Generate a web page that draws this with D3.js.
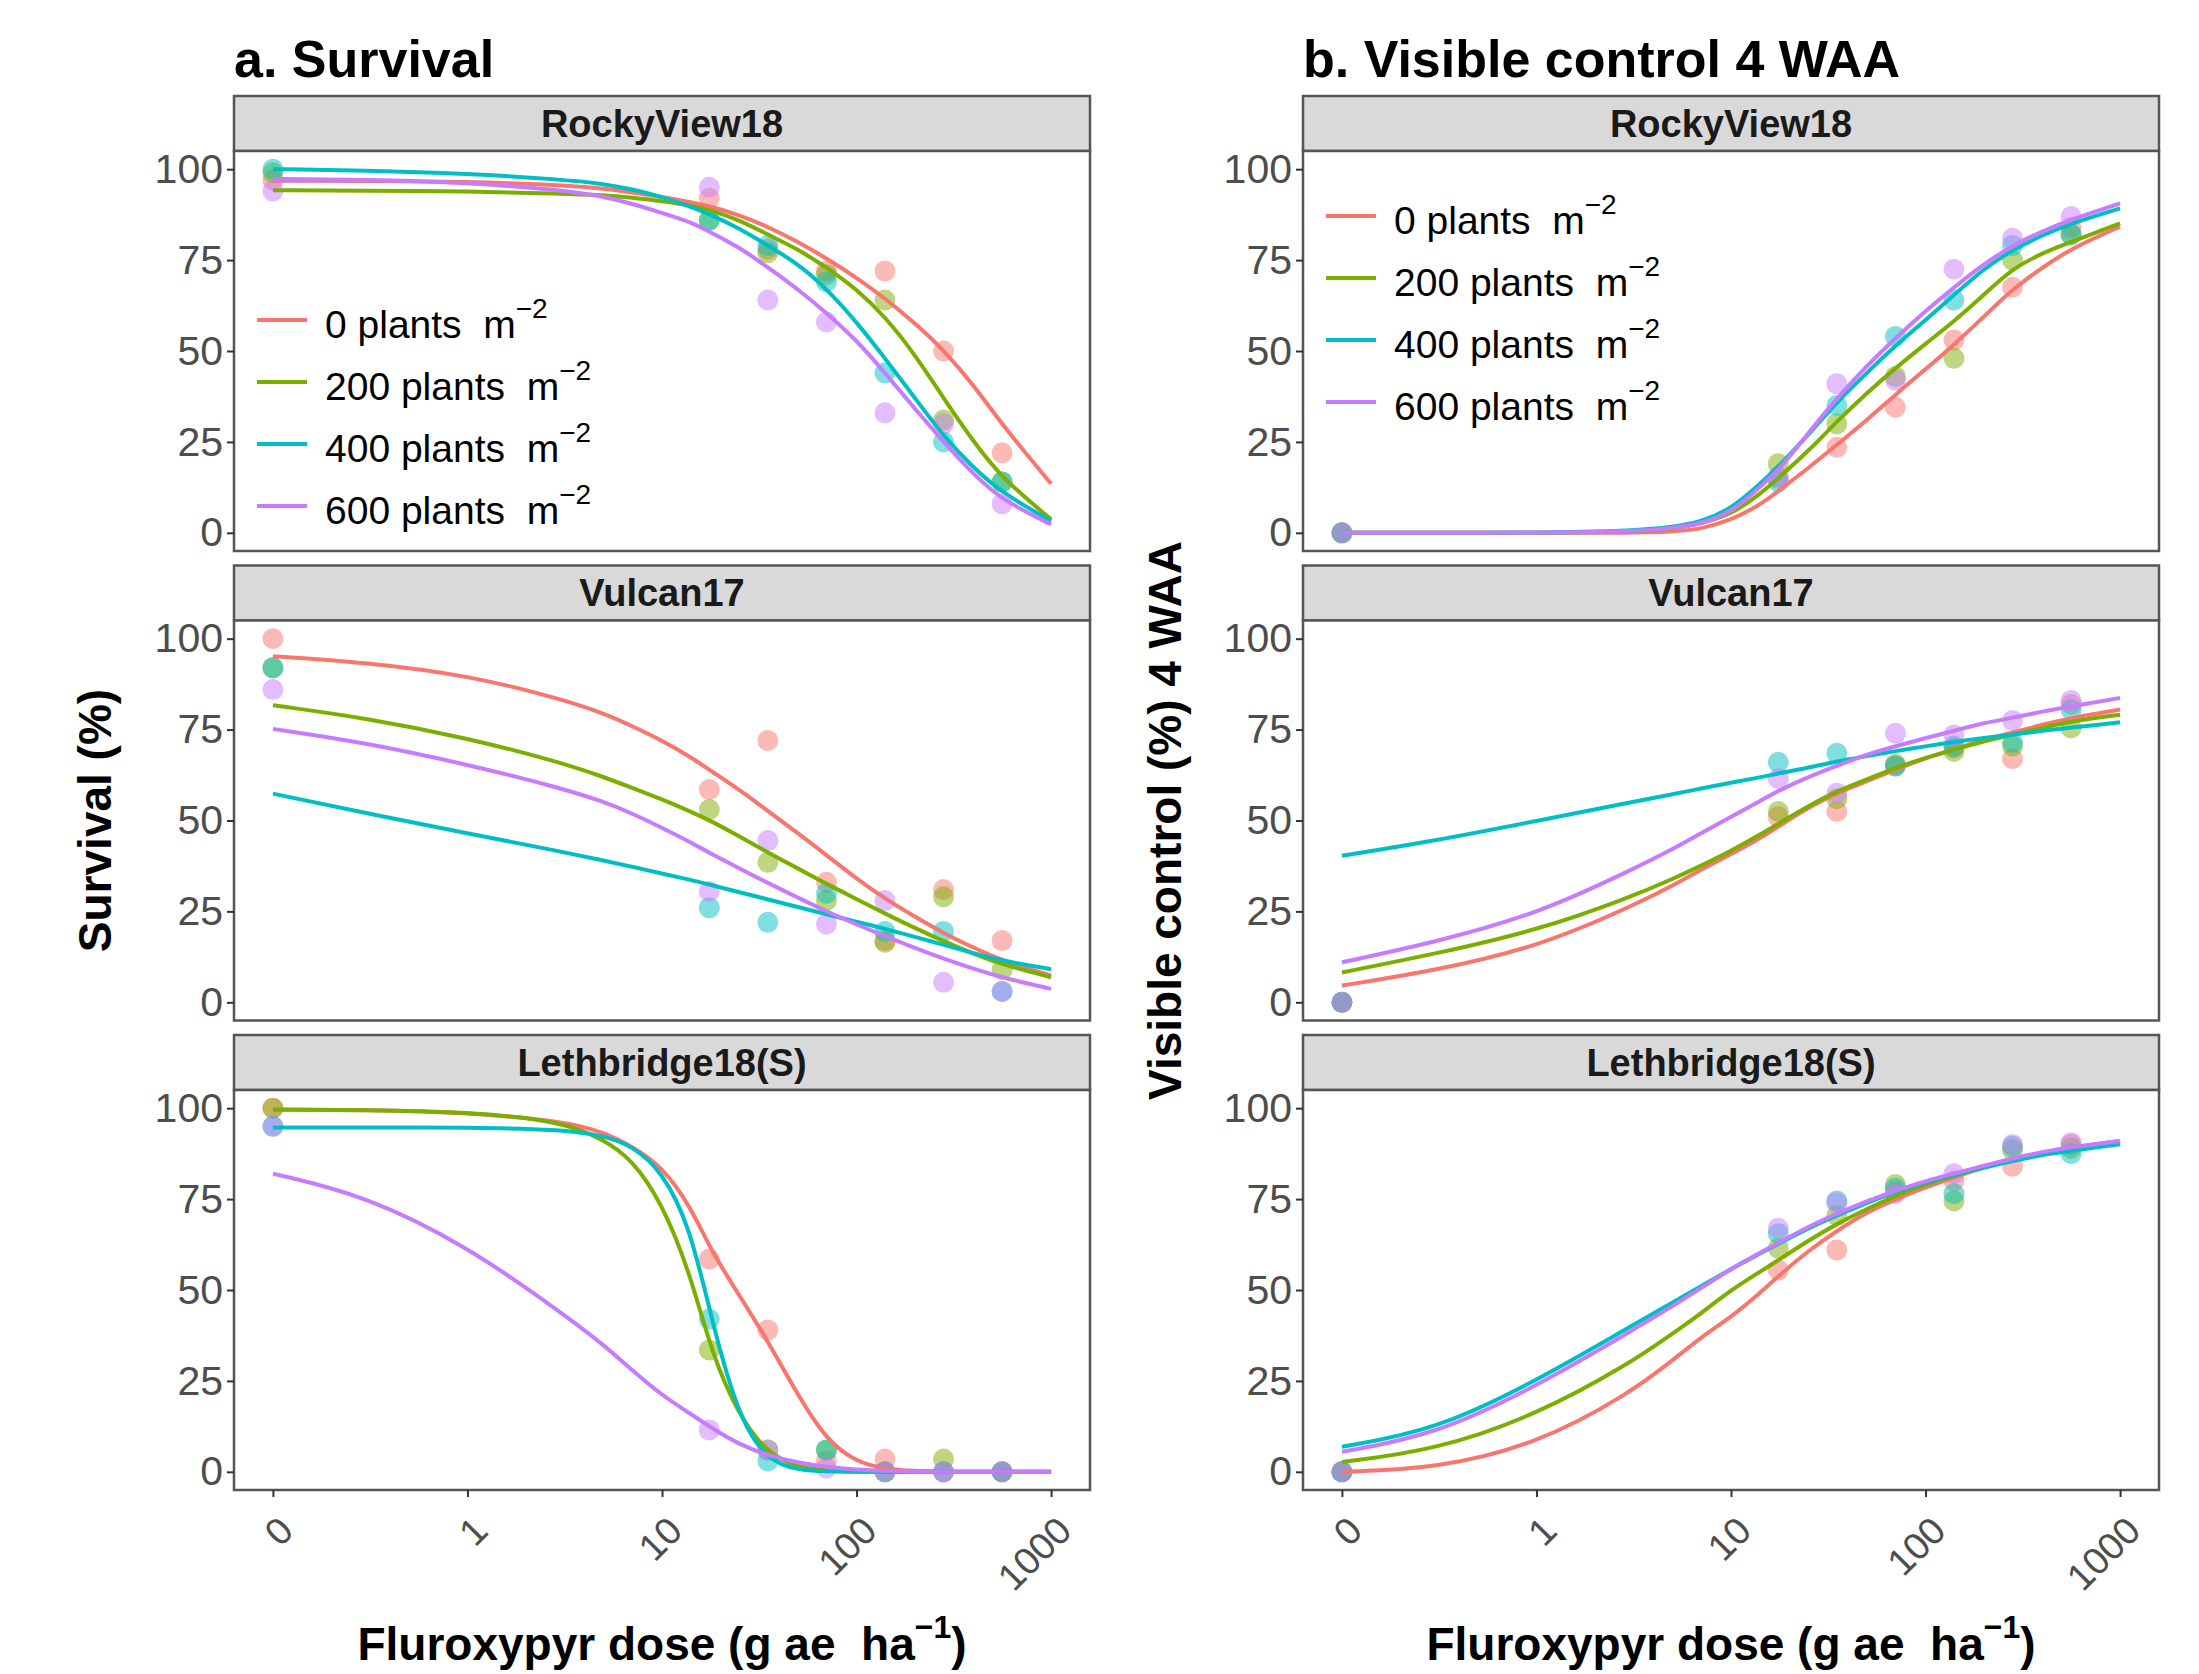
<!DOCTYPE html>
<html>
<head>
<meta charset="utf-8">
<script src="https://cdn.jsdelivr.net/npm/d3@7"></script>
<style>
  body { margin: 0; background: #fff; }
  text { font-family: "Liberation Sans", Arial, sans-serif; }
</style>
</head>
<body>
<svg id="chart" width="2199" height="1674"></svg>
<script>
// ---- data ----
const sites = ["RockyView18", "Vulcan17", "Lethbridge18(S)"];
const densities = [0, 200, 400, 600];
const obsDose = [0, 17.5, 35, 70, 140, 280, 560];
const fitDose = [0, 0.3, 1, 3, 5, 7, 10, 14, 18, 25, 35, 50, 70, 100, 140, 200, 280, 400, 560, 1000];
const xTickValues = [0, 1, 10, 100, 1000];
const xTickLabels = ["0", "1", "10", "100", "1000"];
const yTickValues = [0, 25, 50, 75, 100];

// survival (%) - observed, one row per density (0, 200, 400, 600)
const survObsRocky = [
  [97, 92, 78, 72, 72, 50, 22],
  [99, 86, 77, 71, 64, 31, 14],
  [100, 86, 79, 69, 44, 25, 14],
  [94, 95, 64, 58, 33, 30, 8]
];
const survObsVulcan = [
  [100, 58.5, 72, 33, 17, 31, 17],
  [92, 53, 38.5, 28, 16.5, 29, 9],
  [92, 26, 22, 30, 19.5, 19.5, 3],
  [86, 30.5, 44.5, 21.5, 28, 5.5, 3]
];
const survObsLeth = [
  [100, 58.5, 39, 3, 3.5, 0, 0],
  [100, 33.5, 6, 6, 0, 3.5, 0],
  [95, 42, 3, 6, 0, 0, 0],
  [95, 11.5, 6, 1, 0, 0, 0]
];

// survival (%) - fitted curves at fitDose
const survFitRocky = [
  [96.8, 96.8, 96.6, 95.6, 94.7, 93.6, 92.4, 91, 89.7, 87.4, 84.2, 80, 75.5, 70.2, 64.5, 57.6, 50.3, 40.7, 29.7, 13.5],
  [94.2, 94.1, 93.9, 93.3, 92.9, 92.2, 91.2, 90.1, 88.7, 86, 82, 78, 73, 67, 59.5, 49, 37, 25, 15, 3.7],
  [100, 99.7, 98.8, 97.2, 96, 94.5, 92.4, 89.7, 87.4, 83.7, 79, 74, 67.2, 58, 48, 37, 26.5, 17.8, 11, 3.2],
  [97.3, 97.1, 96.3, 94.3, 92.5, 90.5, 88, 85.5, 82.5, 78.5, 73, 67, 60.5, 53, 44, 34, 25, 16, 9, 2.3]
];
const survFitVulcan = [
  [95.2, 93.5, 90, 83.5, 79.5, 76, 72, 67.5, 63.5, 58.5, 52.6, 46.5, 40.5, 34, 28.5, 23.5, 19, 15, 11.5, 7.3],
  [81.7, 78.2, 72.7, 66, 62, 59, 55.8, 52.5, 49.8, 45.6, 41.2, 36.8, 32.6, 28.4, 24.4, 20.4, 16.8, 13.3, 10.4, 6.9],
  [57.4, 52, 46.5, 41.5, 39, 37.3, 35.4, 33.7, 32.2, 30.3, 28.3, 26.2, 24.2, 22.2, 20.2, 18, 15.8, 13.5, 11.4, 9.1],
  [75.2, 71.4, 65.4, 59, 55.2, 52, 48, 44, 40.8, 36.8, 32.8, 28.8, 25, 21.4, 18.2, 14.9, 12, 9.2, 6.8, 3.7]
];
const survFitLeth = [
  [99.7, 99.5, 98.8, 96.5, 93.5, 89.5, 84, 73, 60.5, 48.5, 36, 21, 8.7, 2.6, 0.8, 0.2, 0, 0, 0, 0],
  [99.6, 99.5, 99, 96.5, 91.5, 86, 74, 54.4, 32.5, 15.1, 5, 1.2, 0.3, 0, 0, 0, 0, 0, 0, 0],
  [94.7, 94.7, 94.7, 94.2, 92.5, 89.7, 82.8, 67.2, 41.6, 14.2, 3, 0.5, 0.1, 0, 0, 0, 0, 0, 0, 0],
  [82, 76, 62, 44, 35, 28, 21, 16, 12, 7.5, 4.5, 2.5, 1.3, 0.6, 0.3, 0.1, 0, 0, 0, 0]
];

// visible control (%) 4 WAA - observed
const visObsRocky = [
  [0, 15, 23.5, 34.5, 53, 67.5, 84],
  [0, 19, 30, 43, 48, 75, 82],
  [0, 14, 35, 54, 64, 79, 82],
  [0, 15.5, 41, 42, 72.5, 81, 87]
];
const visObsVulcan = [
  [0, 51, 52.5, 65, 70, 67, 82],
  [0, 52.5, 56, 65.5, 69, 70.5, 75.5],
  [0, 66, 68.5, 65, 70.5, 71.5, 80.5],
  [0, 61.5, 57.5, 74, 73.5, 77.5, 83]
];
const visObsLeth = [
  [0, 55.5, 61, 77, 80, 84, 90],
  [0, 61.5, 70.5, 79, 74.5, 88.5, 89],
  [0, 65.5, 74.5, 78, 76.5, 89.5, 87.5],
  [0, 67, 74, 76.5, 82, 90, 90.5]
];

// visible control (%) 4 WAA - fitted curves at fitDose
const visFitRocky = [
  [0, 0, 0, 0, 0.3, 1, 3.5, 7.5, 12, 17.8, 24.2, 31, 38, 45, 51.7, 59.5, 67, 73, 78.2, 84.2],
  [0, 0, 0, 0.3, 1, 2.5, 5, 10.5, 15.6, 22.5, 30.6, 38.5, 45.3, 52, 58.1, 65.5, 72.7, 77, 80, 85.1],
  [0, 0, 0, 0.5, 1.5, 3, 6.5, 13.3, 18.8, 27, 36, 44, 51.5, 58.5, 65.4, 72.7, 77.8, 81.9, 85.1, 89.2],
  [0, 0, 0, 0.3, 1.2, 2.5, 5.5, 12.4, 17.8, 27.5, 37, 46, 53.5, 61, 67.5, 74, 79, 83, 86.2, 90.6]
];
const visFitVulcan = [
  [4.6, 8.7, 15.1, 26.1, 32, 36.5, 40.7, 45, 48.8, 53.6, 57.6, 60.8, 64, 67.2, 69.5, 72.3, 74.1, 76.4, 78.2, 80.5],
  [8.2, 13.3, 19.7, 28.8, 33.9, 37.5, 41.6, 46, 49.5, 54, 58.1, 61.3, 64.5, 67.2, 69.5, 71.8, 73.6, 75.5, 77.3, 79.1],
  [40.3, 44.4, 49.9, 54.9, 57.2, 58.8, 60.4, 61.8, 63.1, 64.5, 66.3, 67.7, 69.1, 70.4, 71.6, 72.7, 73.6, 74.7, 75.5, 77],
  [11, 16.5, 24.2, 36.1, 42.1, 46.5, 51, 55.3, 58.5, 62, 65, 68.2, 70.4, 72.7, 74.6, 76.9, 78.2, 80, 81.4, 83.7]
];
const visFitLeth = [
  [0, 0.8, 7.5, 21.5, 30.6, 37, 42.5, 49, 54.4, 60.8, 66.3, 71.4, 75, 78.2, 81, 83.7, 86, 87.8, 89.2, 91],
  [2.7, 5.9, 15.6, 29.7, 38, 43.5, 50, 54.9, 58.6, 63.6, 68.2, 72.3, 75.9, 79.1, 81.4, 83.7, 85.7, 87.4, 88.7, 90.6],
  [6.9, 11.4, 25, 39.8, 46.5, 51, 55.8, 60, 63, 67, 70.5, 74, 77, 79.6, 81.7, 83.7, 85.5, 87.2, 88.3, 90.1],
  [5.5, 10.1, 23.5, 38.4, 45.5, 50.5, 55.8, 60.2, 63.3, 67.4, 71, 74.5, 77.3, 80, 82, 84.2, 86.2, 88, 89.3, 91]
];

// ---- layout / style ----
const colors = ["#F8766D", "#7CAE00", "#00BFC4", "#C77CFF"];
const colLeft = [234, 1303];
const colW = 856;
const rowTop = [96, 565.5, 1035];
const stripH = 55, plotH = 400;
const FONT = '"Liberation Sans", Arial, sans-serif';

const svg = d3.select("#chart");
svg.append("rect").attr("width", 2199).attr("height", 1674).attr("fill", "#fff");

const color = d3.scaleOrdinal().domain(densities).range(colors);

const columns = [
  { title: "a. Survival", ytitle: "Survival (%)", ytitleX: 111,
    fits: [survFitRocky, survFitVulcan, survFitLeth], obs: [survObsRocky, survObsVulcan, survObsLeth],
    legendTop: 169 },
  { title: "b. Visible control 4 WAA", ytitle: "Visible control (%) 4 WAA", ytitleX: 1181,
    fits: [visFitRocky, visFitVulcan, visFitLeth], obs: [visObsRocky, visObsVulcan, visObsLeth],
    legendTop: 65 }
];

const dosePos = d => (d === 0 ? 0.1 : d);

columns.forEach((col, ci) => {
  const left = colLeft[ci];
  const x = d3.scaleLog().domain([Math.pow(10, -1.2), Math.pow(10, 3.2)]).range([left, left + colW]);

  svg.append("text")
    .attr("x", left).attr("y", 77)
    .attr("font-size", 52).attr("font-weight", "bold").attr("fill", "#000")
    .text(col.title);

  sites.forEach((site, ri) => {
    const top = rowTop[ri];
    const pTop = top + stripH, pBot = pTop + plotH;
    const y = d3.scaleLinear().domain([-5, 105]).range([pBot, pTop]);
    const g = svg.append("g");

    // strip
    g.append("rect").attr("x", left).attr("y", top).attr("width", colW).attr("height", stripH)
      .attr("fill", "#D9D9D9").attr("stroke", "#555").attr("stroke-width", 2.5);
    g.append("text").attr("x", left + colW / 2).attr("y", top + stripH / 2 + 13)
      .attr("text-anchor", "middle").attr("font-size", 38).attr("font-weight", "bold")
      .attr("fill", "#1A1A1A").text(site);

    // panel background
    g.append("rect").attr("x", left).attr("y", pTop).attr("width", colW).attr("height", plotH)
      .attr("fill", "#fff");

    // points
    col.obs[ri].forEach((vals, si) => {
      g.append("g").selectAll("circle")
        .data(vals.map((v, k) => [obsDose[k], v]))
        .join("circle")
        .attr("cx", d => x(dosePos(d[0])))
        .attr("cy", d => y(d[1]))
        .attr("r", 10.5)
        .attr("fill", color(densities[si]))
        .attr("fill-opacity", 0.5);
    });

    // fitted curves
    const line = d3.line()
      .x(d => x(dosePos(d[0])))
      .y(d => y(d[1]))
      .curve(d3.curveBasis);
    col.fits[ri].forEach((vals, si) => {
      g.append("path")
        .datum(vals.map((v, k) => [fitDose[k], v]))
        .attr("fill", "none")
        .attr("stroke", color(densities[si]))
        .attr("stroke-width", 4)
        .attr("stroke-linejoin", "round")
        .attr("d", line);
    });

    // border
    g.append("rect").attr("x", left).attr("y", pTop).attr("width", colW).attr("height", plotH)
      .attr("fill", "none").attr("stroke", "#555").attr("stroke-width", 2.5);

    // y axis
    const ya = g.append("g").attr("transform", `translate(${left},0)`)
      .call(d3.axisLeft(y).tickValues(yTickValues).tickSize(7).tickPadding(4));
    ya.select(".domain").remove();
    ya.selectAll(".tick line").attr("stroke", "#333").attr("stroke-width", 2);
    ya.selectAll(".tick text").attr("font-size", 41).attr("fill", "#4D4D4D")
      .attr("font-family", FONT);

    // x axis only under the bottom panel
    if (ri === sites.length - 1) {
      const xa = g.append("g").attr("transform", `translate(0,${pBot})`)
        .call(d3.axisBottom(x).tickValues(xTickValues.map(dosePos))
          .tickFormat((d, i) => xTickLabels[i]).tickSize(7));
      xa.select(".domain").remove();
      xa.selectAll(".tick line").attr("stroke", "#333").attr("stroke-width", 2);
      xa.selectAll(".tick text")
        .attr("y", null).attr("dy", null)
        .attr("transform", "translate(22,43) rotate(-45)")
        .attr("text-anchor", "end")
        .attr("font-size", 38).attr("fill", "#4D4D4D").attr("font-family", FONT);
    }

    // legend in the top panel
    if (ri === 0) {
      const ly = d3.scalePoint().domain(densities).range([pTop + col.legendTop, pTop + col.legendTop + 186]);
      const lg = g.append("g");
      densities.forEach(dn => {
        lg.append("line")
          .attr("x1", left + 23).attr("x2", left + 73)
          .attr("y1", ly(dn)).attr("y2", ly(dn))
          .attr("stroke", color(dn)).attr("stroke-width", 4);
        const t = lg.append("text")
          .attr("x", left + 91).attr("y", ly(dn) + 18)
          .attr("font-size", 39).attr("fill", "#000")
          .style("white-space", "pre");
        t.append("tspan").text(dn + " plants  m");
        t.append("tspan").attr("dy", -20).attr("font-size", 28).text("\u22122");
      });
    }
  });

  // x axis title
  const xt = svg.append("text")
    .attr("x", left + colW / 2).attr("y", 1660)
    .attr("text-anchor", "middle").attr("font-size", 46).attr("font-weight", "bold")
    .attr("fill", "#000").style("white-space", "pre");
  xt.append("tspan").text("Fluroxypyr dose (g ae  ha");
  xt.append("tspan").attr("dy", -22).attr("font-size", 32).text("\u22121");
  xt.append("tspan").attr("dy", 22).text(")");

  // y axis title
  svg.append("text")
    .attr("transform", `translate(${col.ytitleX},${rowTop[0] + stripH + (rowTop[2] + stripH + plotH - rowTop[0] - stripH) / 2}) rotate(-90)`)
    .attr("text-anchor", "middle").attr("font-size", 46).attr("font-weight", "bold")
    .attr("fill", "#000").text(col.ytitle);
});
</script>
</body>
</html>
